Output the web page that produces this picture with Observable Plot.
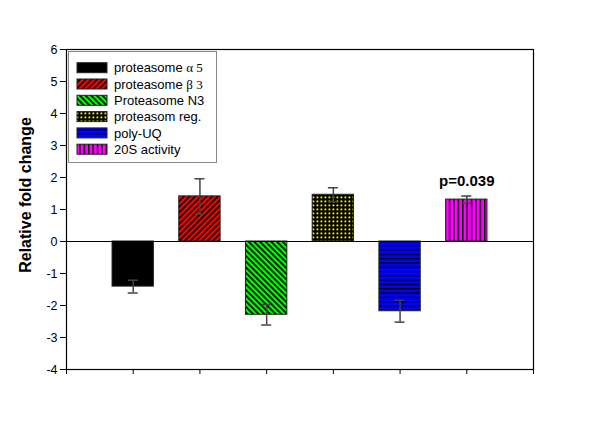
<!DOCTYPE html>
<html><head><meta charset="utf-8">
<script src="https://cdn.jsdelivr.net/npm/d3@7"></script>
<script src="https://cdn.jsdelivr.net/npm/@observablehq/plot@0.6"></script>
<style>body{margin:0;background:#fff;font-family:Arial,"Liberation Sans",sans-serif}</style>
</head><body><div id="chart"></div>
<script>
const categories = ["proteasome α 5", "proteasome β 3", "Proteasome N3", "proteasom reg.", "poly-UQ", "20S activity"];
const labelMain = ["proteasome ", "proteasome ", "Proteasome N3", "proteasom reg.", "poly-UQ", "20S activity"];
const labelGreek = ["α 5", "β 3", "", "", "", ""];
const values = [-1.41, 1.41, -2.29, 1.46, -2.18, 1.31];
const errors = [0.20, 0.55, 0.32, 0.22, 0.34, 0.11];
const positions = [1, 2, 3, 4, 5, 6];
const baseColors = ["#000000", "#ff0000", "#00ff00", "#000000", "#0000ff", "#ff00ff"];
const inkColors = ["#000000", "#000000", "#000000", "#ffff00", "#000000", "#000000"];
const patternKinds = ["solid", "diagUp", "diagDown", "dots", "hlines", "vlines"];
const yTicks = [-4, -3, -2, -1, 0, 1, 2, 3, 4, 5, 6];
const xTicks = [0, 1, 2, 3, 4, 5, 6, 7];
const yTitle = "Relative fold change";
const annotationText = ["p=0.039"];
const annotationIndex = [5];

const rows = categories.map((c, i) => ({
  cat: c, pos: positions[i], value: values[i], err: errors[i],
  lo: values[i] - errors[i], hi: values[i] + errors[i], id: "pat" + i
}));
const notes = annotationIndex.map((k, j) => ({pos: positions[k], value: values[k] + errors[k], text: annotationText[j]}));

const halfW = 0.31;   // half bar width (x units)
const capW = 0.075;   // half cap width (x units)
const plot = Plot.plot({
  width: 600, height: 422,
  marginLeft: 66, marginRight: 67, marginTop: 49, marginBottom: 53,
  style: {fontFamily: "Arial, 'Liberation Sans', sans-serif", fontSize: "12px", color: "#000", background: "#fff"},
  x: {type: "linear", domain: [0, 7], axis: null},
  y: {domain: [-4, 6], axis: null},
  marks: [
    Plot.rectY(rows, {x1: d => d.pos - halfW, x2: d => d.pos + halfW, y1: 0, y2: "value",
      fill: d => `url(#${d.id})`, stroke: "#222", strokeWidth: 1}),
    Plot.ruleY([0], {stroke: "#000", strokeWidth: 1.2}),
    Plot.ruleX(rows, {x: "pos", y1: "lo", y2: "hi", stroke: "#444", strokeWidth: 1.5}),
    Plot.ruleY(rows, {x1: d => d.pos - capW, x2: d => d.pos + capW, y: "lo", stroke: "#444", strokeWidth: 1.5}),
    Plot.ruleY(rows, {x1: d => d.pos - capW, x2: d => d.pos + capW, y: "hi", stroke: "#444", strokeWidth: 1.5}),
    Plot.text(notes, {x: "pos", y: "value", text: "text", dy: -15, fontWeight: "bold", fontSize: 15, fill: "#000"}),
    Plot.frame({stroke: "#000", strokeWidth: 1.2}),
    Plot.axisY(yTicks, {tickSize: 6, tickPadding: 3, fontSize: 12.5, stroke: "#000", label: null, tickFormat: d => String(d)}),
    Plot.axisX(xTicks, {tickSize: 5, tickFormat: () => "", stroke: "#000", label: null})
  ]
});

// pattern definitions
const svg = d3.select(plot);
const defs = svg.insert("defs", ":first-child");
rows.forEach((d, i) => {
  const kind = patternKinds[i], base = baseColors[i], ink = inkColors[i];
  const p = defs.append("pattern").attr("id", d.id).attr("patternUnits", "userSpaceOnUse");
  if (kind === "solid") {
    p.attr("width", 4).attr("height", 4);
    p.append("rect").attr("width", 4).attr("height", 4).attr("fill", base);
  } else if (kind === "diagUp" || kind === "diagDown") {
    p.attr("width", 4).attr("height", 4).attr("patternTransform", kind === "diagUp" ? "rotate(45)" : "rotate(-45)");
    p.append("rect").attr("width", 4).attr("height", 4).attr("fill", base);
    p.append("rect").attr("x", 0).attr("width", 1.7).attr("height", 4).attr("fill", ink);
  } else if (kind === "dots") {
    p.attr("width", 4).attr("height", 4);
    p.append("rect").attr("width", 4).attr("height", 4).attr("fill", base);
    p.append("rect").attr("x", 0.5).attr("y", 0.5).attr("width", 1.8).attr("height", 1.8).attr("fill", ink);
  } else if (kind === "hlines") {
    p.attr("width", 4).attr("height", 4.3);
    p.append("rect").attr("width", 4).attr("height", 4.3).attr("fill", base);
    p.append("rect").attr("y", 0).attr("width", 4).attr("height", 1.2).attr("fill", ink);
  } else if (kind === "vlines") {
    p.attr("width", 4.4).attr("height", 4);
    p.append("rect").attr("width", 4.4).attr("height", 4).attr("fill", base);
    p.append("rect").attr("x", 0).attr("width", 1.4).attr("height", 4).attr("fill", ink);
  }
});

// y-axis title
svg.append("text").attr("transform", "translate(25,195) rotate(-90)")
  .attr("text-anchor", "middle").attr("dy", "0.36em")
  .attr("font-size", 16).attr("font-weight", "bold").attr("fill", "#000").text(yTitle);

// legend
const lg = svg.append("g").attr("class", "legend").attr("text-anchor", "start");
lg.append("rect").attr("x", 68.5).attr("y", 51.5).attr("width", 148).attr("height", 111)
  .attr("fill", "#fff").attr("stroke", "#888").attr("stroke-width", 1);
rows.forEach((d, i) => {
  const cy = 67.7 + i * 16.3;
  lg.append("rect").attr("x", 77).attr("y", cy - 5).attr("width", 30).attr("height", 10)
    .attr("fill", `url(#${d.id})`).attr("stroke", "#222").attr("stroke-width", 1);
  const t = lg.append("text").attr("x", 114).attr("y", cy).attr("dy", "0.36em")
    .attr("text-anchor", "start").attr("font-size", 13).attr("fill", "#000");
  t.append("tspan").text(labelMain[i]);
  if (labelGreek[i]) t.append("tspan").attr("font-family", "'Liberation Serif', 'DejaVu Serif', serif").text(labelGreek[i]);
});

document.getElementById("chart").appendChild(plot);
</script>
</body></html>
